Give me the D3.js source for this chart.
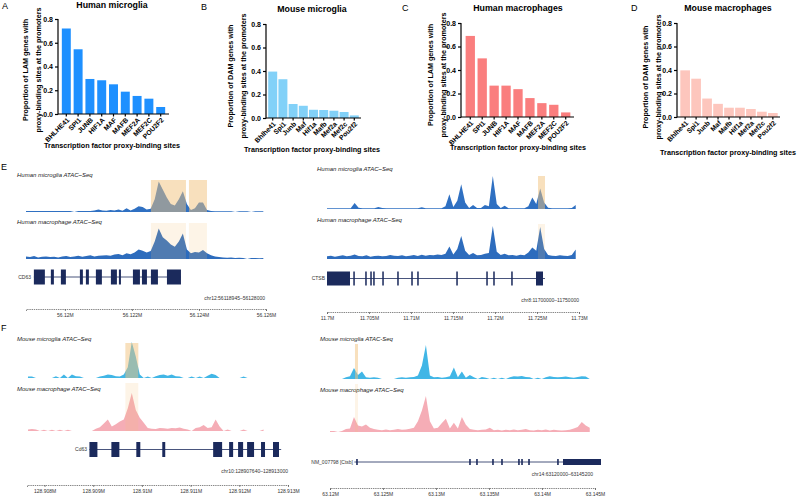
<!DOCTYPE html>
<html>
<head>
<meta charset="utf-8">
<script src="https://cdn.jsdelivr.net/npm/d3@7"></script>
<style>
  body { margin: 0; background: #fff; }
  svg { display: block; font-family: "Liberation Sans", Arial, sans-serif; }
</style>
</head>
<body>
<div id="chart"></div>
<script>
// ---- bar chart data (A-D) ----
const tfHuman = ["BHLHE41", "SPI1", "JUNB", "HIF1A", "MAF", "MAFB", "MEF2A", "MEF2C", "POU2F2"];
const tfMouseMicroglia = ["Bhlhe41", "Spi1", "Junb", "Maf", "Hif1a", "Mafb", "Mef2a", "Mef2c", "Pou2f2"];
const tfMouseMacrophage = ["Bhlhe41", "Spi1", "Junb", "Maf", "Mafb", "Hif1a", "Mef2a", "Mef2c", "Pou2f2"];
const humanMicroglia = [0.72, 0.545, 0.295, 0.284, 0.25, 0.188, 0.152, 0.129, 0.059];
const mouseMicroglia = [0.395, 0.33, 0.119, 0.104, 0.07, 0.068, 0.062, 0.051, 0.022];
const humanMacrophages = [0.69, 0.499, 0.267, 0.267, 0.237, 0.161, 0.118, 0.104, 0.039];
const mouseMacrophages = [0.397, 0.326, 0.157, 0.112, 0.079, 0.079, 0.068, 0.045, 0.034];
const yTicks = [0, 0.2, 0.4, 0.6, 0.8];

// ---- ATAC-seq coverage (binned signal, 0-100) ----
const cd63HumanMicroglia = [3,3,3,3,3,3,3,3,3,3,3,3,0,3,3,3,3,5,8,5,4,6,5,8,4,12,5,10,18,16,8,10,40,95,70,45,25,20,40,65,25,6,12,30,30,6,3,2,2,2,2,2,0,2,2,2,0,2,2,2];
const cd63HumanMacrophage = [8,6,9,5,7,8,6,7,5,8,9,6,8,10,7,9,12,8,10,11,12,10,14,16,12,18,15,20,30,26,20,25,55,95,68,58,45,38,55,80,30,18,22,20,28,18,12,8,6,5,4,5,3,4,3,0,3,3,2,3];
const ctsbHumanMicroglia = [2,2,2,2,2,2,2,18,4,2,2,2,2,6,3,2,2,2,2,2,2,2,2,2,5,2,2,2,2,2,8,45,6,25,75,20,3,12,3,3,12,8,100,15,3,10,2,2,2,2,2,8,35,15,62,20,4,2,2,2,2,2,3,12];
const ctsbHumanMacrophage = [8,10,7,9,11,8,10,14,9,8,11,7,9,10,8,9,12,10,9,11,8,10,12,9,13,10,12,11,14,12,16,38,14,30,70,25,12,18,11,12,16,18,100,22,12,16,11,12,10,13,11,20,35,25,97,30,12,10,9,11,10,9,12,29];
const cd63MouseMicroglia = [4,4,0,0,0,0,0,5,0,10,0,10,5,4,0,0,0,0,4,6,10,8,5,4,10,30,100,60,10,0,4,0,5,8,10,6,10,5,4,0,0,4,0,4,0,6,12,8,0,0,0,0,0,0,4,0,0,0,0,0];
const cd63MouseMacrophage = [4,5,4,0,3,0,3,0,3,0,3,0,0,0,0,0,0,6,10,20,30,12,18,25,30,60,100,55,35,22,8,6,5,8,7,6,8,7,9,6,4,0,8,10,16,8,10,30,12,0,4,0,0,0,4,0,0,0,0,4];
const ctsbMouseMicroglia = [0,0,0,0,5,8,32,12,22,5,4,5,4,0,0,0,0,4,5,4,5,6,10,40,100,10,5,6,4,5,8,34,5,22,4,12,5,0,6,4,0,4,0,4,0,5,8,7,9,6,5,0,4,0,5,8,6,5,6,7,5,4,6,8,7,0];
const ctsbMouseMacrophage = [3,3,0,3,8,10,42,18,15,21,12,8,6,5,7,5,6,8,6,7,9,12,30,60,100,30,10,12,25,37,10,26,10,42,20,8,6,5,6,7,12,5,6,4,6,5,7,5,6,8,5,4,6,5,7,4,6,5,4,5,6,10,14,28,18,12];

// ---- gene models (genomic coordinates) ----
const cd63HumanExons = [[56119075,56119403],[56119582,56119672],[56119881,56120030],[56120448,56120537],[56120627,56120716],[56120925,56121104],[56121373,56121552],[56121612,56121672],[56122030,56122239],[56122299,56122448],[56122567,56122776],[56123045,56123463]];
const ctsbHumanExons = [[11700000,11702738],[11703130,11703310],[11704550,11704730],[11705150,11705330],[11705500,11705680],[11706580,11706760],[11708360,11708540],[11710030,11710210],[11710740,11710920],[11715390,11715570],[11718960,11719140],[11719790,11719970],[11721930,11722110],[11724881,11725714]];
const cd63MouseExons = [[128908922,128909086],[128909373,128909537],[128909885,128909967],[128910418,128910479],[128911463,128911647],[128911791,128911873],[128911975,128912078],[128912160,128912303],[128912446,128912528],[128912692,128912815]];
const ctsbMouseExons = [[63122470,63122620],[63133130,63133280],[63133790,63133940],[63135300,63135450],[63136150,63136300],[63137750,63137900],[63138040,63138190],[63138700,63138850],[63141430,63141580],[63141981,63145566]];

// ---- highlighted regions ----
const cd63HumanPeaks = [[56122567,56123612],[56123701,56124239]];
const ctsbHumanPeaks = [[11725119,11725952]];
const cd63MousePeaks = [[128909660,128909926]];
const ctsbMousePeaks = [[63122358,63122641]];

const width = 800, height = 499;
const svg = d3.select("#chart").append("svg")
  .attr("width", width)
  .attr("height", height);

// ================= bar panels =================
function barPanel(o) {
  const g = svg.append("g");
  const x = d3.scaleBand().domain(o.names).range([o.left, o.right]).padding(o.pad);
  const y = d3.scaleLinear().domain([0, 0.8]).range([o.bottom, o.top]);

  g.selectAll("rect")
    .data(o.values)
    .join("rect")
    .attr("x", (d, i) => x(o.names[i]))
    .attr("y", d => y(d))
    .attr("width", x.bandwidth())
    .attr("height", d => y(0) - y(d))
    .attr("fill", o.color);

  // y axis
  const ya = g.append("g")
    .attr("transform", `translate(${o.axisX},0)`)
    .call(d3.axisLeft(y).tickValues(yTicks).tickFormat(d3.format(".1f")).tickSize(3).tickPadding(2));
  ya.select(".domain").remove();
  ya.append("line").attr("y1", y(0) + 0.6).attr("y2", y(0.8)).attr("stroke", "#000").attr("stroke-width", 1.2);
  ya.selectAll(".tick line").attr("stroke-width", 1.2);
  ya.selectAll("text").attr("font-size", 7).attr("font-weight", "bold").attr("fill", "#000");

  // x axis
  const xa = g.append("g")
    .attr("transform", `translate(0,${y(0)})`)
    .call(d3.axisBottom(x).tickSize(2.5));
  xa.select(".domain").remove();
  xa.append("line").attr("x1", o.axisX).attr("x2", o.right + 1).attr("stroke", "#000").attr("stroke-width", 1.2);
  xa.selectAll(".tick line").attr("stroke-width", 1.2);
  xa.selectAll("text")
    .attr("x", 0).attr("y", 0).attr("dy", 0)
    .attr("transform", "translate(3.5,6.5) rotate(-45)")
    .style("text-anchor", "end")
    .attr("font-size", 6.8)
    .attr("font-weight", "bold")
    .attr("fill", "#000");

  // titles
  svg.append("text").attr("x", o.titleX).attr("y", o.titleY)
    .attr("text-anchor", "middle").attr("font-size", 8.8).attr("font-weight", "bold")
    .text(o.title);
  svg.append("text").attr("x", o.letterX).attr("y", o.letterY)
    .attr("font-size", 9).text(o.letter);
  svg.append("text").attr("x", o.titleX).attr("y", o.xTitleY)
    .attr("text-anchor", "middle").attr("font-size", 7.2).attr("font-weight", "bold")
    .text("Transcription factor proxy-binding sites");
  const yt = svg.append("text")
    .attr("transform", `translate(${o.yTitleX},${o.yTitleY}) rotate(-90)`)
    .attr("text-anchor", "middle").attr("font-size", 7.2).attr("font-weight", "bold");
  yt.append("tspan").attr("x", 0).attr("dy", 0).text(`Proportion of ${o.genes} genes with`);
  yt.append("tspan").attr("x", 0).attr("dy", 13).text("proxy-binding sites at the promoters");
}

barPanel({ names: tfHuman, values: humanMicroglia, color: "#1e90ff", genes: "LAM",
  left: 59, right: 168, pad: 0.24, axisX: 58, top: 19, bottom: 114,
  title: "Human microglia", titleX: 112, titleY: 8, xTitleY: 148,
  letter: "A", letterX: 2, letterY: 9, yTitleX: 28, yTitleY: 70 });
barPanel({ names: tfMouseMicroglia, values: mouseMicroglia, color: "#82d1f8", genes: "DAM",
  left: 267, right: 360, pad: 0.12, axisX: 266, top: 24, bottom: 118,
  title: "Mouse microglia", titleX: 312, titleY: 12, xTitleY: 152,
  letter: "B", letterX: 201, letterY: 10, yTitleX: 233, yTitleY: 76 });
barPanel({ names: tfHuman, values: humanMacrophages, color: "#fa7e7e", genes: "LAM",
  left: 463, right: 573, pad: 0.22, axisX: 461, top: 23, bottom: 117,
  title: "Human macrophages", titleX: 518, titleY: 11, xTitleY: 150,
  letter: "C", letterX: 402, letterY: 11, yTitleX: 433, yTitleY: 75 });
barPanel({ names: tfMouseMacrophage, values: mouseMacrophages, color: "#fdc6bd", genes: "DAM",
  left: 679, right: 779, pad: 0.12, axisX: 677, top: 23, bottom: 117,
  title: "Mouse macrophages", titleX: 728, titleY: 11, xTitleY: 155,
  letter: "D", letterX: 631, letterY: 11, yTitleX: 648, yTitleY: 77 });

// ================= genome browser panels =================
const fmtM = d => (+(d / 1e6).toFixed(3)) + "M";

function trackPanel(o) {
  const g = svg.append("g");
  const xs = d3.scaleLinear().domain(o.domain).range(o.range);

  o.tracks.forEach(t => {
    const ys = d3.scaleLinear().domain([0, 100]).range([t.base, t.base - t.h]);
    const area = d3.area()
      .x((d, i) => xs(o.binStart + i * o.binSize))
      .y0(t.base)
      .y1(d => ys(d))
      .curve(d3.curveLinear);
    g.append("path").datum(t.values).attr("d", area).attr("fill", t.color);
    g.append("text").attr("x", t.labelX).attr("y", t.labelY)
      .attr("font-size", 6).attr("font-style", "italic").attr("fill", "#222")
      .text(t.label);
    g.selectAll(null).data(o.peaks).join("rect")
      .attr("x", d => xs(d[0]))
      .attr("width", d => xs(d[1]) - xs(d[0]))
      .attr("y", t.hiTop)
      .attr("height", t.base - t.hiTop)
      .attr("fill", "#f2c27c")
      .attr("opacity", t.hiOpacity);
  });

  // gene model
  const gm = o.gene;
  g.append("line")
    .attr("x1", xs(gm.start)).attr("x2", xs(gm.end))
    .attr("y1", gm.y).attr("y2", gm.y)
    .attr("stroke", "#1b2a5c").attr("stroke-width", 0.8);
  g.selectAll(null).data(gm.exons).join("rect")
    .attr("x", d => xs(d[0]))
    .attr("width", d => Math.max(1.2, xs(d[1]) - xs(d[0])))
    .attr("y", gm.y - gm.h / 2)
    .attr("height", gm.h)
    .attr("fill", "#1b2a5c");
  g.append("text").attr("x", gm.labelX).attr("y", gm.y + 1.8)
    .attr("text-anchor", "end").attr("font-size", 5).attr("fill", "#333")
    .text(gm.name);

  // region label
  g.append("text").attr("x", o.chrX).attr("y", o.chrY)
    .attr("text-anchor", "end").attr("font-size", 5).attr("fill", "#333")
    .text(o.chr);

  // coordinate axis
  const ax = g.append("g")
    .attr("transform", `translate(0,${o.axisY})`)
    .call(d3.axisBottom(xs).tickValues(o.ticks).tickFormat(fmtM).tickSize(2).tickPadding(2.5));
  ax.select(".domain").attr("stroke", "#555").attr("stroke-dasharray", "1.4,0.8").attr("stroke-width", 0.7);
  ax.selectAll(".tick line").attr("stroke", "#555").attr("stroke-width", 0.7);
  ax.selectAll("text").attr("font-size", 5).attr("fill", "#333");
}

// E - human
trackPanel({
  domain: [56118840, 56126000], range: [26, 266], binStart: 56118840, binSize: 120,
  peaks: cd63HumanPeaks,
  tracks: [
    { values: cd63HumanMicroglia, color: "#2f70c2", base: 212, h: 32, hiTop: 180, hiOpacity: 0.5,
      label: "Human microglia ATAC\u2013Seq", labelX: 17, labelY: 177 },
    { values: cd63HumanMacrophage, color: "#2d6cbd", base: 259, h: 32, hiTop: 223, hiOpacity: 0.18,
      label: "Human macrophage ATAC\u2013Seq", labelX: 17, labelY: 224 }
  ],
  gene: { name: "CD63", labelX: 31, y: 277, h: 15, start: 56119075, end: 56123463, exons: cd63HumanExons },
  chr: "chr12:56118945\u201356128000", chrX: 265, chrY: 300,
  axisY: 309, ticks: [56120000, 56122000, 56124000, 56126000]
});
trackPanel({
  domain: [11700000, 11730000], range: [327, 579], binStart: 11700000, binSize: 470,
  peaks: ctsbHumanPeaks,
  tracks: [
    { values: ctsbHumanMicroglia, color: "#2f70c2", base: 209, h: 33, hiTop: 176, hiOpacity: 0.5,
      label: "Human microglia ATAC\u2013Seq", labelX: 317, labelY: 171 },
    { values: ctsbHumanMacrophage, color: "#2d6cbd", base: 259, h: 33, hiTop: 224, hiOpacity: 0.18,
      label: "Human macrophage ATAC\u2013Seq", labelX: 317, labelY: 222 }
  ],
  gene: { name: "CTSB", labelX: 325, y: 278.5, h: 14, start: 11700000, end: 11725950, exons: ctsbHumanExons },
  chr: "chr8:11700000\u201311750000", chrX: 579, chrY: 302,
  axisY: 312, ticks: [11700000, 11705000, 11710000, 11715000, 11720000, 11725000, 11730000]
});

// F - mouse
trackPanel({
  domain: [128907640, 128913000], range: [27, 288], binStart: 128907660, binSize: 82,
  peaks: cd63MousePeaks,
  tracks: [
    { values: cd63MouseMicroglia, color: "#41b6e6", base: 378, h: 36, hiTop: 343, hiOpacity: 0.5,
      label: "Mouse microglia ATAC\u2013Seq", labelX: 17, labelY: 341 },
    { values: cd63MouseMacrophage, color: "#f5adb6", base: 431, h: 38, hiTop: 383, hiOpacity: 0.18,
      label: "Mouse macrophage ATAC\u2013Seq", labelX: 17, labelY: 391 }
  ],
  gene: { name: "Cd63", labelX: 87, y: 449.5, h: 15, start: 128908922, end: 128912860, exons: cd63MouseExons },
  chr: "chr10:128907640\u2013128913000", chrX: 288, chrY: 473,
  axisY: 485, ticks: [128908000, 128909000, 128910000, 128911000, 128912000, 128913000]
});
trackPanel({
  domain: [63120000, 63145000], range: [330, 595], binStart: 63120000, binSize: 377,
  peaks: ctsbMousePeaks,
  tracks: [
    { values: ctsbMouseMicroglia, color: "#41b6e6", base: 379, h: 34, hiTop: 344, hiOpacity: 0.5,
      label: "Mouse microglia ATAC-Seq", labelX: 320, labelY: 341 },
    { values: ctsbMouseMacrophage, color: "#f5adb6", base: 432, h: 36, hiTop: 384, hiOpacity: 0.18,
      label: "Mouse macrophage ATAC\u2013Seq", labelX: 320, labelY: 392 }
  ],
  gene: { name: "NM_007798 [Ctsb]", labelX: 353, y: 462, h: 6, start: 63122300, end: 63145566, exons: ctsbMouseExons },
  chr: "chr14:63120000\u201363145200", chrX: 593, chrY: 476,
  axisY: 488, ticks: [63120000, 63125000, 63130000, 63135000, 63140000, 63145000]
});

// panel letters E, F
svg.append("text").attr("x", 1).attr("y", 170).attr("font-size", 9).text("E");
svg.append("text").attr("x", 1).attr("y", 331).attr("font-size", 9).text("F");
</script>
</body>
</html>
